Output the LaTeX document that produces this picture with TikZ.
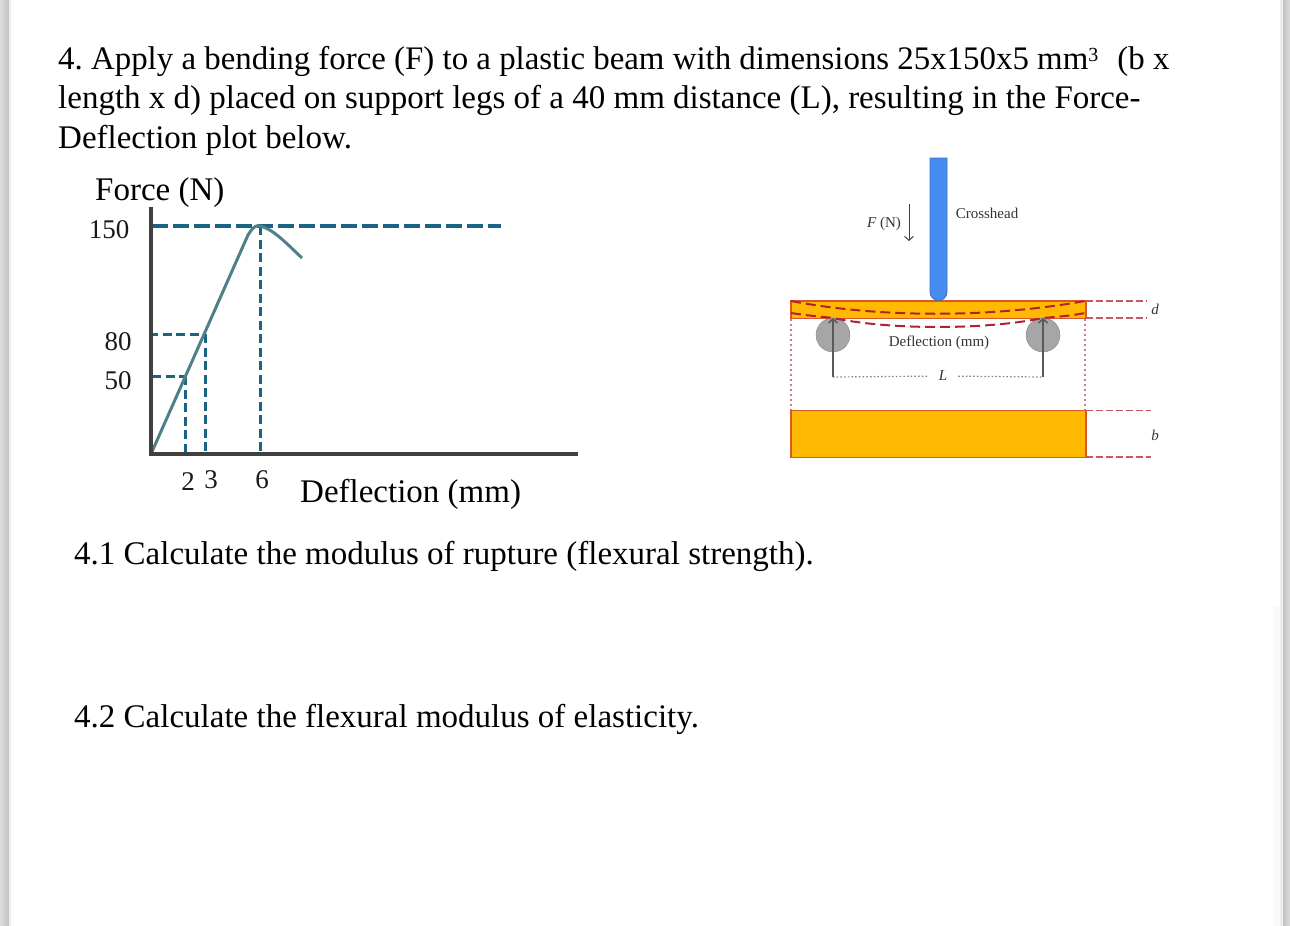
\documentclass[tikz,border=0pt]{standalone}
\usepackage{fontspec}
\setmainfont{Liberation Serif}
\usetikzlibrary{arrows.meta}
\definecolor{plotblue}{HTML}{1B6384}
\definecolor{curvegray}{HTML}{4F7F88}
\definecolor{beamfill}{HTML}{FFB900}
\definecolor{beamline}{HTML}{D8582A}
\definecolor{headblue}{HTML}{468CF0}
\definecolor{dashred}{HTML}{B32036}
\definecolor{rollgray}{HTML}{A6A6A6}
\tikzstyle{question}=[anchor=base west, inner sep=0pt, font=\fontsize{33}{39}\selectfont\frenchspacing]
\tikzstyle{ticklabel}=[anchor=base, inner sep=0pt, font=\fontsize{27}{32}\selectfont, text=black!90]
\tikzstyle{smalllabel}=[anchor=base, inner sep=0pt, font=\fontsize{15}{18}\selectfont, text=black!80]
\tikzstyle{italiclabel}=[smalllabel, font=\fontsize{15}{18}\selectfont\itshape]
\tikzstyle{guide}=[draw=plotblue, line width=3pt, dash pattern=on 9pt off 4.5pt]
\tikzstyle{guidethick}=[draw=plotblue, line width=4.5pt, dash pattern=on 16pt off 5pt]
\tikzstyle{axis}=[draw=black!75, line width=3.5pt]
\tikzstyle{beam}=[draw=beamline, fill=beamfill, line width=1.2pt, minimum width=295pt, inner sep=0pt, anchor=north west]
\tikzstyle{roller}=[fill=rollgray, draw=rollgray!80!black, circle, minimum size=34pt, inner sep=0pt]
\tikzstyle{reddash}=[draw=dashred, line width=2pt, dash pattern=on 10pt off 5pt]
\tikzstyle{redline}=[draw=dashred!75, line width=1.2pt, dash pattern=on 7pt off 3pt]
\tikzstyle{reddot}=[draw=dashred!60, line width=1.3pt, dash pattern=on 1.5pt off 3.5pt]
\tikzstyle{reaction}=[-{Straight Barb[length=4pt,width=9pt]}, black!65, line width=1.5pt]
\tikzstyle{spandots}=[black!50, line width=1.2pt, dash pattern=on 1.5pt off 2.2pt]
\begin{document}
\begin{tikzpicture}[x=1pt, y=-1pt]
      \useasboundingbox (0,0) rectangle (1290,926);
      % Page edges
      \shade [left color=black!13, right color=black!24] (0,0) rectangle (9,926);
      \fill [black!7] (9,0) rectangle (11,926);
      \fill [black!7] (1280,0) rectangle (1283,926);
      \shade [left color=black!24, right color=black!13] (1283,0) rectangle (1290,926);
      \fill [black!2] (1273,606) rectangle (1280,926);
      % Question text
      \node [question, font=\fontsize{32.88}{39}\selectfont\frenchspacing] (line1) at (58,69) {4. Apply a bending force (F) to a plastic beam with dimensions 25x150x5 mm\raisebox{8pt}{\fontsize{20}{20}\selectfont 3}\hspace{11pt} (b x};
      \node [question] (line2) at (58,108) {length x d) placed on support legs of a 40 mm distance (L), resulting in the Force-};
      \node [question] (line3) at (58,148) {Deflection plot below.};
      \node [question] (part1) at (74,564) {4.1 Calculate the modulus of rupture (flexural strength).};
      \node [question] (part2) at (74,727) {4.2 Calculate the flexural modulus of elasticity.};
      % Plot points
      \coordinate (origin) at (151,454);
      \coordinate (ytop) at (151,207);
      \coordinate (xend) at (578,454);
      \coordinate (peak) at (260,226);
      \coordinate (drop) at (302,258);
      \coordinate (p50) at (185,376);
      \coordinate (p80) at (205,334);
      \coordinate (y150) at (152,226);
      \coordinate (yend) at (501,226);
      \coordinate (y80) at (149,334);
      \coordinate (y50) at (152,376);
      \coordinate (x2) at (185,454);
      \coordinate (x3) at (205,454);
      \coordinate (x6) at (260,454);
      % Guides
      \draw [guidethick] (y150) -- (yend);
      \draw [guide] (y80) -- (p80);
      \draw [guide] (y50) -- (p50);
      \draw [guide] (p50) -- (x2);
      \draw [guide] (p80) -- (x3);
      \draw [guide] (peak) -- (x6);
      % Curve
      \draw [curvegray, line width=3pt] (origin) -- (248,235) .. controls (254,225) and (258,225) .. (peak) .. controls (273,229) and (285,242) .. (drop);
      % Axes
      \draw [axis] (ytop) -- (origin) -- (xend);
      % Plot labels
      \node [question] (forcelabel) at (95,200) {Force (N)};
      \node [question] (deflabel) at (300,502) {Deflection (mm)};
      \node [ticklabel] (l150) at (109,238) {150};
      \node [ticklabel] (l80) at (118,350) {80};
      \node [ticklabel] (l50) at (118,389) {50};
      \node [ticklabel] (l2) at (188,490) {2};
      \node [ticklabel] (l3) at (211,488) {3};
      \node [ticklabel] (l6) at (262,488) {6};
      % Beam sketch
      \node [beam, minimum height=17.5pt] (beamside) at (790.4,300.4) {};
      \node [beam, minimum height=47pt] (beamend) at (790.4,409.8) {};
      \node [roller] (rollL) at (833,335) {};
      \node [roller] (rollR) at (1043,335) {};
      \draw [fill=headblue, draw=headblue!80!black, line width=.8pt] (930,158) -- (947,158) -- (947,292) arc[start angle=0, end angle=-180, radius=8.5pt] -- cycle;
      % Deflected outline
      \coordinate (bl1) at (791,301);
      \coordinate (br1) at (1085,301);
      \coordinate (bl2) at (791,313);
      \coordinate (br2) at (1085,313);
      \coordinate (tl) at (833,318);
      \coordinate (tr) at (1043,318);
      \draw [reddash] (bl1) .. controls (880,318) and (990,318) .. (br1);
      \draw [reddash] (bl2) .. controls (810,316) and (825,317) .. (tl) .. controls (890,330) and (985,330) .. (tr) .. controls (1055,317) and (1070,316) .. (br2);
      % Support arrows
      \coordinate (footL) at (833,377);
      \coordinate (footR) at (1043,377);
      \draw [reaction] (footL) -- (tl);
      \draw [reaction] (footR) -- (tr);
      \node [italiclabel, anchor=center, inner xsep=11pt, inner ysep=2pt] (spanlabel) at (943,376) {L};
      \draw [spandots] (footL) -- (spanlabel);
      \draw [spandots] (spanlabel) -- (footR);
      % Force arrow
      \coordinate (fa) at (909,204);
      \coordinate (fb) at (909,241);
      \draw [-{Straight Barb[length=4pt,width=9pt]}, black!75, line width=1pt] (fa) -- (fb);
      % Small labels
      \node [smalllabel] (forcearrow) at (884,227) {\textit{F} (N)};
      \node [smalllabel] (crosslabel) at (987,218) {Crosshead};
      \node [smalllabel] (deflectlabel) at (939,346) {Deflection (mm)};
      % Dimension lines
      \coordinate (dA) at (1086,301);
      \coordinate (dB) at (1147,301);
      \coordinate (dC) at (1086,318);
      \coordinate (dD) at (1147,318);
      \coordinate (bA) at (1086,410.5);
      \coordinate (bB) at (1151,410.5);
      \coordinate (bC) at (1086,457);
      \coordinate (bD) at (1151,457);
      \draw [redline] (dA) -- (dB);
      \draw [redline] (dC) -- (dD);
      \draw [redline] (bA) -- (bB);
      \draw [redline] (bC) -- (bD);
      \node [italiclabel] (dlabel) at (1155,314) {d};
      \node [italiclabel] (blabel) at (1155,440) {b};
      % Projection lines
      \coordinate (pa) at (791,319);
      \coordinate (pb) at (791,410);
      \coordinate (pc) at (1085,319);
      \coordinate (pd) at (1085,410);
      \draw [reddot] (pa) -- (pb);
      \draw [reddot] (pc) -- (pd);
    \end{tikzpicture}
\end{document}
